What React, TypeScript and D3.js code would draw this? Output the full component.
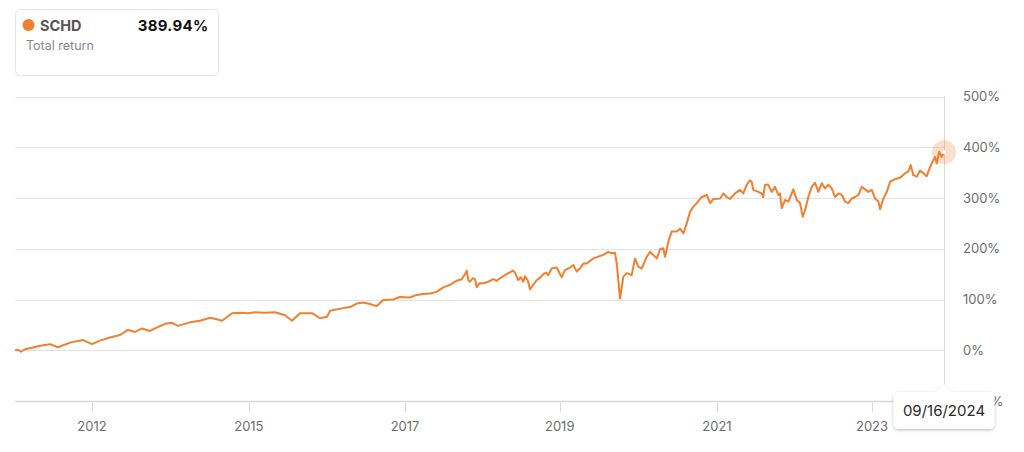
import React from 'react';
import * as d3 from 'd3';

const seriesName = 'SCHD';
const totalReturnText = '389.94%';
const subtitle = 'Total return';
const tooltipDate = '09/16/2024';

// decimal years
const dates = [
  2011.800, 2011.842, 2011.883, 2011.939, 2012.036, 2012.147, 2012.286, 2012.398, 2012.564, 2012.745,
  2012.870, 2012.981, 2013.120, 2013.259, 2013.370, 2013.468, 2013.565, 2013.676, 2013.746, 2013.885,
  2013.982, 2014.065, 2014.232, 2014.371, 2014.510, 2014.607, 2014.677, 2014.816, 2014.927, 2015.038,
  2015.135, 2015.274, 2015.413, 2015.552, 2015.649, 2015.761, 2015.858, 2015.927, 2016.039, 2016.136,
  2016.178, 2016.362, 2016.455, 2016.549, 2016.640, 2016.733, 2016.827, 2016.918, 2017.057, 2017.150,
  2017.289, 2017.382, 2017.474, 2017.567, 2017.660, 2017.752, 2017.845, 2017.938, 2018.008, 2018.054,
  2018.077, 2018.100, 2018.123, 2018.161, 2018.193, 2018.216, 2018.252, 2018.308, 2018.378, 2018.447,
  2018.494, 2018.564, 2018.633, 2018.717, 2018.749, 2018.794, 2018.828, 2018.864, 2018.887, 2018.925,
  2018.957, 2019.003, 2019.050, 2019.106, 2019.142, 2019.179, 2019.211, 2019.258, 2019.328, 2019.397,
  2019.443, 2019.512, 2019.559, 2019.606, 2019.652, 2019.698, 2019.745, 2019.837, 2019.976, 2020.045,
  2020.092, 2020.138, 2020.162, 2020.208, 2020.254, 2020.301, 2020.370, 2020.416, 2020.462, 2020.509,
  2020.578, 2020.625, 2020.718, 2020.764, 2020.809, 2020.833, 2020.879, 2020.926, 2020.996, 2021.042,
  2021.088, 2021.135, 2021.181, 2021.227, 2021.274, 2021.343, 2021.413, 2021.459, 2021.505, 2021.598,
  2021.644, 2021.690, 2021.736, 2021.806, 2021.875, 2021.921, 2021.968, 2022.014, 2022.037, 2022.059,
  2022.129, 2022.176, 2022.198, 2022.222, 2022.268, 2022.315, 2022.362, 2022.407, 2022.431, 2022.455,
  2022.501, 2022.547, 2022.616, 2022.664, 2022.709, 2022.747, 2022.779, 2022.825, 2022.872, 2022.918,
  2022.964, 2023.011, 2023.057, 2023.104, 2023.150, 2023.196, 2023.243, 2023.289, 2023.335, 2023.382,
  2023.428, 2023.474, 2023.521, 2023.567, 2023.613, 2023.660, 2023.706, 2023.752, 2023.798, 2023.822,
  2023.868, 2023.915, 2023.961, 2024.030, 2024.099, 2024.170, 2024.215, 2024.248, 2024.284, 2024.331,
  2024.377, 2024.423, 2024.470, 2024.492, 2024.539, 2024.585, 2024.608, 2024.644, 2024.678, 2024.710,
];

// total return, %
const returns = [
  0, 1, -3, 2, 5, 9, 12, 6, 15, 20,
  12, 19, 25, 30, 40, 36, 43, 38, 43, 52,
  54, 48, 55, 58, 64, 61, 58, 73, 74, 73,
  75, 74, 75, 69, 58, 73, 73, 73, 63, 66,
  78, 83, 85, 92, 94, 91, 87, 99, 100, 105,
  104, 109, 111, 112, 115, 124, 129, 137, 140, 150,
  157, 138, 135, 142, 140, 124, 132, 132, 135, 140,
  137, 144, 150, 157, 153, 138, 144, 135, 146, 138,
  120, 129, 138, 144, 150, 153, 148, 161, 163, 144,
  158, 163, 168, 155, 161, 171, 171, 181, 188, 194,
  191, 192, 171, 102, 145, 152, 148, 181, 165, 161,
  184, 194, 181, 199, 201, 184, 214, 234, 234, 240,
  230, 250, 273, 283, 290, 302, 306, 290, 298, 299,
  309, 302, 298, 309, 316, 309, 326, 335, 332, 316,
  312, 309, 302, 326, 326, 312, 322, 306, 309, 280,
  296, 293, 317, 296, 290, 263, 276, 302, 322, 330,
  312, 329, 319, 326, 319, 302, 309, 306, 293, 290,
  299, 302, 306, 322, 317, 312, 316, 299, 293, 278,
  299, 312, 332, 337, 340, 349, 352, 365, 345, 342,
  354, 349, 343, 352, 368, 381, 368, 391, 381, 389.94,
];

const yTicks = [-100, 0, 100, 200, 300, 400, 500];
const yTickLabels = ['-100%', '0%', '100%', '200%', '300%', '400%', '500%'];
const xTickDates = [2012.87, 2015.05, 2017.22, 2019.37, 2021.555, 2023.71];
const xTickLabels = ['2012', '2015', '2017', '2019', '2021', '2023'];

const ORANGE = '#f0802f';
const FONT = "Inter, 'Helvetica Neue', Arial, sans-serif";

export default function App() {
  const W = 1024;
  const H = 452;
  const left = 15;
  const right = 944;
  const x = d3.scaleLinear().domain([dates[0], dates[dates.length - 1]]).range([left, right]);
  const y = d3.scaleLinear().domain([-100, 500]).range([401, 96.5]);
  const line = d3
    .line<number>()
    .x((_, i) => x(dates[i]))
    .y((d) => y(d))
    .curve(d3.curveLinear);

  const lastX = x(dates[dates.length - 1]);
  const lastY = y(returns[returns.length - 1]);
  const tipTop = 392;
  const tipH = 37;
  const tipW = 101;

  return (
    <svg
      width={W}
      height={H}
      style={{ position: 'absolute', left: 0, top: 0, background: '#fff' }}
      fontFamily={FONT}
    >
      <defs>
        <filter id="tipShadow" x="-20%" y="-40%" width="140%" height="180%">
          <feDropShadow dx="0" dy="1" stdDeviation="1.6" floodColor="#000" floodOpacity="0.28" />
        </filter>
      </defs>
      <rect x={0} y={0} width={W} height={H} fill="#fff" />

      {/* legend box */}
      <rect x={15.5} y={9.5} width={203} height={66} rx={5} fill="#fff" stroke="#e4e4e4" />
      <circle cx={28.5} cy={25} r={6} fill={ORANGE} />
      <text x={40} y={30.5} fontSize={14.5} fontWeight={700} fill="#555">
        {seriesName}
      </text>
      <text x={208.5} y={30.5} fontSize={15} fontWeight={700} fill="#111" textAnchor="end" letterSpacing={0.3}>
        {totalReturnText}
      </text>
      <text x={26} y={49.5} fontSize={12.5} fill="#888">
        {subtitle}
      </text>

      {/* grid lines */}
      {yTicks.map((t) => (
        <line
          key={t}
          x1={left}
          x2={right}
          y1={Math.round(y(t)) + 0.5}
          y2={Math.round(y(t)) + 0.5}
          stroke={t === -100 ? '#d8d8d8' : '#e2e2e2'}
          strokeWidth={t === -100 ? 1.5 : 1}
        />
      ))}
      {/* x ticks */}
      {xTickDates.map((d, i) => (
        <g key={xTickLabels[i]}>
          <line x1={Math.round(x(d)) + 0.5} x2={Math.round(x(d)) + 0.5} y1={401} y2={412} stroke="#dcdcdc" />
          <text x={x(d)} y={431} fontSize={13} fill="#6e6e6e" textAnchor="middle">
            {xTickLabels[i]}
          </text>
        </g>
      ))}
      {/* y labels */}
      {yTicks.map((t, i) => (
        <text key={t} x={963} y={y(t)} dy="0.36em" fontSize={13} fill="#6e6e6e">
          {yTickLabels[i]}
        </text>
      ))}

      {/* crosshair */}
      <line x1={Math.round(lastX) + 0.5} x2={Math.round(lastX) + 0.5} y1={96} y2={tipTop} stroke="#dadada" />

      {/* series line */}
      <path d={line(returns) || ''} fill="none" stroke={ORANGE} strokeWidth={2} strokeLinejoin="round" />

      {/* end marker */}
      <circle cx={lastX} cy={lastY} r={12} fill={ORANGE} fillOpacity={0.25} />
      <circle cx={lastX} cy={lastY} r={2} fill="#fff" />

      {/* tooltip */}
      <g filter="url(#tipShadow)">
        <path
          d={`M${lastX - tipW / 2 + 5},${tipTop} L${lastX - 8},${tipTop} L${lastX},${tipTop - 8} L${lastX + 8},${tipTop} L${lastX + tipW / 2 - 5},${tipTop} Q${lastX + tipW / 2},${tipTop} ${lastX + tipW / 2},${tipTop + 5} L${lastX + tipW / 2},${tipTop + tipH - 5} Q${lastX + tipW / 2},${tipTop + tipH} ${lastX + tipW / 2 - 5},${tipTop + tipH} L${lastX - tipW / 2 + 5},${tipTop + tipH} Q${lastX - tipW / 2},${tipTop + tipH} ${lastX - tipW / 2},${tipTop + tipH - 5} L${lastX - tipW / 2},${tipTop + 5} Q${lastX - tipW / 2},${tipTop} ${lastX - tipW / 2 + 5},${tipTop} Z`}
          fill="#fff"
        />
      </g>
      <text x={lastX} y={415.5} fontSize={15} fill="#2a2a2a" textAnchor="middle">
        {tooltipDate}
      </text>
    </svg>
  );
}
